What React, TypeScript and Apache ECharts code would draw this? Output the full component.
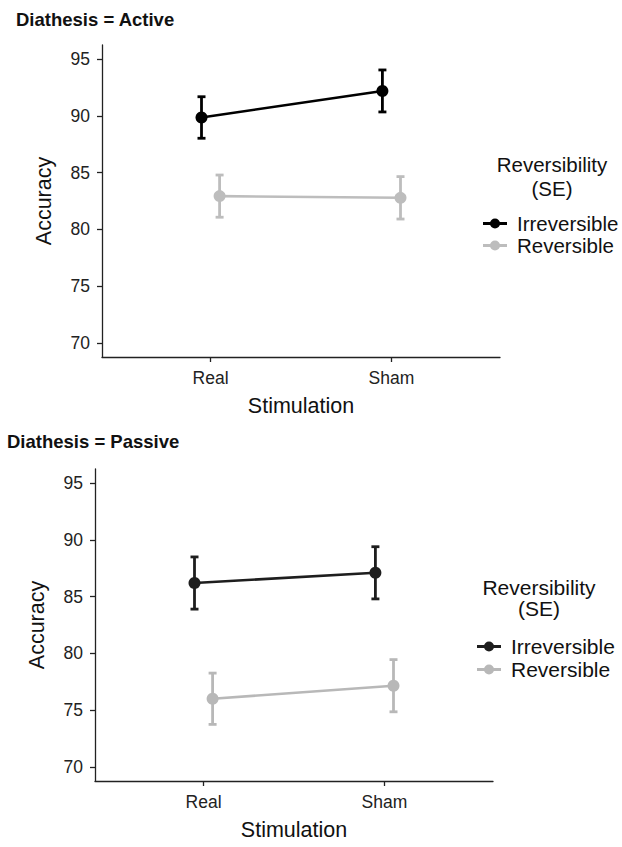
import React, { useEffect, useRef } from "react";
import * as echarts from "echarts";

const categories = ["Real", "Sham"];
const groups = ["Irreversible", "Reversible"];
const yTicks = [70, 75, 80, 85, 90, 95];
const xTicks = [1, 2];

const activeIrrMean = [89.86, 92.2];
const activeIrrSE = [1.83, 1.85];
const activeRevMean = [82.93, 82.78];
const activeRevSE = [1.86, 1.87];

const passiveIrrMean = [86.2, 87.1];
const passiveIrrSE = [2.3, 2.3];
const passiveRevMean = [76.0, 77.15];
const passiveRevSE = [2.26, 2.3];

const FONT = "Liberation Sans";

function App() {
  const ref = useRef<HTMLDivElement>(null);

  useEffect(() => {
    if (!ref.current) return;
    const chart = echarts.init(ref.current, null, { renderer: "svg" });

    const dodge = [-0.05, 0.05];

    const pts = (means: number[], g: number) =>
      means.map((m, i) => [i + 1 + dodge[g], m]);
    const bars = (means: number[], se: number[], g: number) =>
      means.map((m, i) => [i + 1 + dodge[g], m - se[i], m + se[i]]);

    const panels = [
      {
        irr: activeIrrMean, irrSE: activeIrrSE, rev: activeRevMean, revSE: activeRevSE,
        irrColor: "#000000", revColor: "#bdbdbd",
      },
      {
        irr: passiveIrrMean, irrSE: passiveIrrSE, rev: passiveRevMean, revSE: passiveRevSE,
        irrColor: "#1e1e1e", revColor: "#b8b8b8",
      },
    ];

    const errRender = (color: string) => (params: any, api: any) => {
      const x = api.value(0);
      const lo = api.coord([x, api.value(1)]);
      const hi = api.coord([x, api.value(2)]);
      const half = 4;
      const style = { stroke: color, lineWidth: 2.8 };
      return {
        type: "group",
        children: [
          { type: "line", shape: { x1: lo[0], y1: lo[1], x2: hi[0], y2: hi[1] }, style },
          { type: "line", shape: { x1: lo[0] - half, y1: lo[1], x2: lo[0] + half, y2: lo[1] }, style },
          { type: "line", shape: { x1: hi[0] - half, y1: hi[1], x2: hi[0] + half, y2: hi[1] }, style },
        ],
      };
    };

    const series: any[] = [];
    panels.forEach((p, pi) => {
      const defs = [
        { name: groups[0], means: p.irr, se: p.irrSE, color: p.irrColor, g: 0 },
        { name: groups[1], means: p.rev, se: p.revSE, color: p.revColor, g: 1 },
      ];
      defs.forEach((d) => {
        series.push({
          type: "custom",
          name: d.name,
          xAxisIndex: pi,
          yAxisIndex: pi,
          renderItem: errRender(d.color),
          encode: { x: 0, y: [1, 2] },
          data: bars(d.means, d.se, d.g),
          itemStyle: { color: d.color },
          z: 2,
        });
        series.push({
          type: "line",
          name: d.name,
          xAxisIndex: pi,
          yAxisIndex: pi,
          data: pts(d.means, d.g),
          symbol: "circle",
          symbolSize: 12,
          itemStyle: { color: d.color },
          lineStyle: { color: d.color, width: 2.6 },
          z: 3,
        });
      });
    });

    const grids = [
      { left: 102, top: 45, width: 398, height: 312 },
      { left: 95, top: 469, width: 398, height: 312 },
    ];

    const xAxes = grids.map((_, i) => ({
      type: "value",
      gridIndex: i,
      min: 0.4,
      max: 2.6,
      splitLine: { show: false },
      axisLine: { show: true, lineStyle: { color: "#222", width: 1.3 } },
      axisTick: { show: true, customValues: xTicks, length: 5, lineStyle: { color: "#222", width: 1.3 } },
      axisLabel: {
        customValues: xTicks,
        formatter: (v: number) => categories[Math.round(v) - 1] || "",
        fontSize: 17.5,
        fontFamily: FONT,
        color: "#222",
        margin: 12,
      },
      name: "Stimulation",
      nameLocation: "middle",
      nameGap: 38,
      nameTextStyle: { fontSize: 21.5, fontFamily: FONT, color: "#111" },
    }));

    const yAxes = grids.map((_, i) => ({
      type: "value",
      gridIndex: i,
      min: 68.75,
      max: 96.25,
      splitLine: { show: false },
      axisLine: { show: true, lineStyle: { color: "#222", width: 1.3 } },
      axisTick: { show: true, customValues: yTicks, length: 5, lineStyle: { color: "#222", width: 1.3 } },
      axisLabel: {
        customValues: yTicks,
        fontSize: 17.5,
        fontFamily: FONT,
        color: "#222",
        margin: 12,
      },
      name: "Accuracy",
      nameLocation: "middle",
      nameGap: 47,
      nameTextStyle: { fontSize: 21.5, fontFamily: FONT, color: "#111" },
    }));

    const icon =
      "path://M0,3.5h24v3h-24z M7,5a5,5 0 1,1 10,0a5,5 0 1,1 -10,0z";

    const legendFor = (pi: number, left: number, top: number, gap: number, fs: number) => ({
      orient: "vertical",
      left,
      top,
      itemGap: gap,
      itemWidth: 24,
      itemHeight: 10,
      icon,
      selectedMode: false,
      textStyle: { fontSize: fs, fontFamily: FONT, color: "#111", padding: [0, 0, 0, 5] },
      data: [
        { name: groups[0], itemStyle: { color: panels[pi].irrColor } },
        { name: groups[1], itemStyle: { color: panels[pi].revColor } },
      ],
    });

    const txt = (text: string, x: number, y: number, fs: number) => ({
      type: "text",
      x,
      y,
      style: {
        text,
        align: "center",
        verticalAlign: "middle",
        fontSize: fs,
        fontFamily: FONT,
        fill: "#111",
      },
    });

    chart.setOption({
      animation: false,
      backgroundColor: "#ffffff",
      title: [
        {
          text: "Diathesis = Active",
          left: 16,
          top: 10,
          padding: 0,
          textStyle: { fontSize: 18.5, fontWeight: "bold", fontFamily: FONT, color: "#111" },
        },
        {
          text: "Diathesis = Passive",
          left: 7,
          top: 432,
          padding: 0,
          textStyle: { fontSize: 18.5, fontWeight: "bold", fontFamily: FONT, color: "#111" },
        },
      ],
      grid: grids,
      xAxis: xAxes,
      yAxis: yAxes,
      legend: [legendFor(0, 478, 208, 1, 20.5), legendFor(1, 472, 631, 2, 21)],
      graphic: [
        txt("Reversibility", 552, 164, 20.5),
        txt("(SE)", 552, 188, 20.5),
        txt("Reversibility", 539, 587, 21),
        txt("(SE)", 539, 608, 21),
      ],
      series,
    });

    return () => chart.dispose();
  }, []);

  return (
    <div
      ref={ref}
      style={{ position: "fixed", left: 0, top: 0, width: 622, height: 847 }}
    />
  );
}

export default App;
